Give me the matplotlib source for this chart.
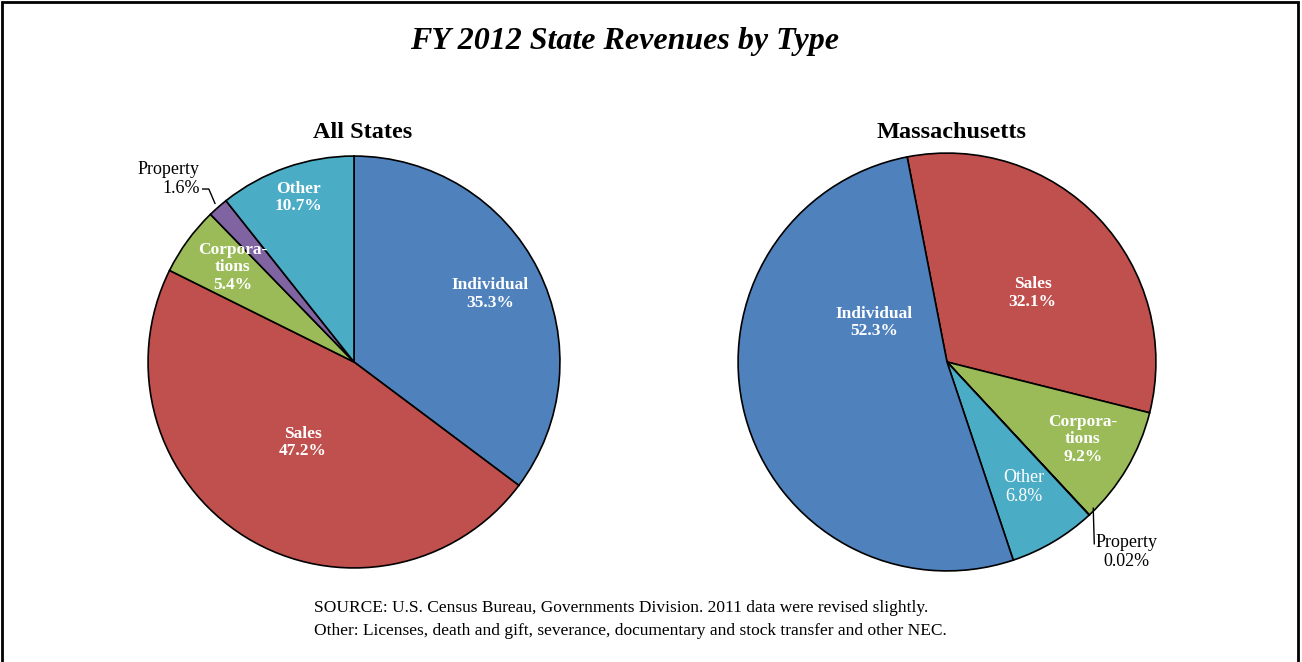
import matplotlib.pyplot as plt
from matplotlib.patches import Rectangle

plt.rcParams['font.family'] = ['Liberation Serif', 'DejaVu Serif']

colors = {'Individual': '#4F81BD', 'Sales': '#C0504D', 'Corporations': '#9BBB59',
          'Property': '#8064A2', 'Other': '#4BACC6'}

# All States, clockwise from top
us_cats = ['Individual', 'Sales', 'Corporations', 'Property', 'Other']
us_vals = [35.3, 47.2, 5.4, 1.6, 10.7]
us_labels = ['Individual\n35.3%', 'Sales\n47.2%', 'Corpora-\ntions\n5.4%', 'Property\n1.6%', 'Other\n10.7%']

# Massachusetts, clockwise from the Sales edge
ma_cats = ['Sales', 'Corporations', 'Property', 'Other', 'Individual']
ma_vals = [32.1, 9.2, 0.02, 6.8, 52.3]
ma_labels = ['Sales\n32.1%', 'Corpora-\ntions\n9.2%', 'Property\n0.02%', 'Other\n6.8%', 'Individual\n52.3%']

W, H = 1302, 662
fig = plt.figure(figsize=(W / 100, H / 100), dpi=100)


def pie_axes(cx, cy, r):
    return fig.add_axes([(cx - r) / W, (H - cy - r) / H, 2 * r / W, 2 * r / H])


ax1 = pie_axes(354, 362, 208)
ax1.pie(us_vals, colors=[colors[c] for c in us_cats], startangle=90, counterclock=False,
        wedgeprops=dict(edgecolor='black', linewidth=1.2))
ax1.set_xlim(-1.01, 1.01)
ax1.set_ylim(-1.01, 1.01)
ax1.axis('off')

ax2 = pie_axes(947, 362, 211)
ax2.pie(ma_vals, colors=[colors[c] for c in ma_cats], startangle=101, counterclock=False,
        wedgeprops=dict(edgecolor='black', linewidth=1.2))
ax2.set_xlim(-1.01, 1.01)
ax2.set_ylim(-1.01, 1.01)
ax2.axis('off')

bold_white = dict(color='white', fontsize=12.5, fontweight='bold', ha='center', va='center',
                  linespacing=1.12)

# All States labels
ax1.text(0.66, 0.33, us_labels[0], **bold_white)
ax1.text(-0.25, -0.39, us_labels[1], **bold_white)
ax1.text(-0.59, 0.46, us_labels[2], **bold_white)
ax1.text(-0.27, 0.80, us_labels[4], **bold_white)
ax1.text(-0.75, 0.89, us_labels[3], color='black', fontsize=13, ha='right', va='center',
         linespacing=1.15)
ax1.plot([-0.735, -0.705, -0.675], [0.84, 0.84, 0.77], color='black', lw=1)

# Massachusetts labels
ax2.text(-0.35, 0.19, ma_labels[4], **bold_white)
ax2.text(0.41, 0.33, ma_labels[0], **bold_white)
ax2.text(0.65, -0.37, ma_labels[1], **bold_white)
ax2.text(0.37, -0.60, ma_labels[3], color='white', fontsize=13, ha='center', va='center',
         linespacing=1.15)
ax2.text(0.86, -0.91, ma_labels[2], color='black', fontsize=13, ha='center', va='center',
         linespacing=1.15)
ax2.plot([0.70, 0.705], [-0.70, -0.87], color='black', lw=1)

fig.text(625 / W, 1 - 42 / H, 'FY 2012 State Revenues by Type', fontsize=23,
         fontweight='bold', fontstyle='italic', ha='center', va='center')
fig.text(363 / W, 1 - 133 / H, 'All States', fontsize=17.5, fontweight='bold',
         ha='center', va='center')
fig.text(952 / W, 1 - 133 / H, 'Massachusetts', fontsize=17.5, fontweight='bold',
         ha='center', va='center')
fig.text(314 / W, 1 - 608 / H,
         'SOURCE: U.S. Census Bureau, Governments Division. 2011 data were revised slightly.',
         fontsize=12.5, ha='left', va='center')
fig.text(314 / W, 1 - 631 / H,
         'Other: Licenses, death and gift, severance, documentary and stock transfer and other NEC.',
         fontsize=12.5, ha='left', va='center')

fig.patches.append(Rectangle((2 / W, -0.05), 1296 / W, 1.05 - 2 / H, transform=fig.transFigure,
                             fill=False, edgecolor='black', linewidth=2))

fig.savefig('out.png', dpi=100)
